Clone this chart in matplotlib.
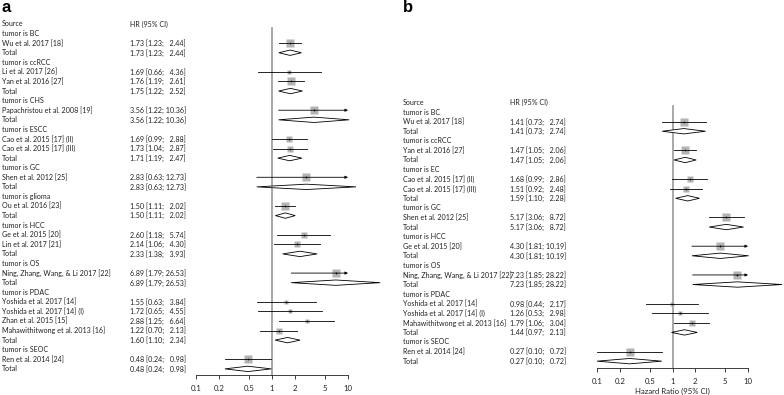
import numpy as np
import matplotlib
matplotlib.use("Agg")
import matplotlib.pyplot as plt
from matplotlib import transforms
from matplotlib.patches import Polygon

plt.rcParams["font.family"] = ["Lato", "DejaVu Sans"]

TXT = "#231f20"
BOX = "#b3b3b3"
VLINE = "#9a9a9a"

# ---- panel a data ----
a_groups = ["BC", "ccRCC", "CHS", "ESCC", "GC", "glioma", "HCC", "OS", "PDAC", "SEOC"]
a_studies = ["Wu et al. 2017 [18]",
             "Li et al. 2017 [26]", "Yan et al. 2016 [27]",
             "Papachristou et al. 2008 [19]",
             "Cao et al. 2015 [17] (II)", "Cao et al. 2015 [17] (III)",
             "Shen et al. 2012 [25]",
             "Ou et al. 2016 [23]",
             "Ge et al. 2015 [20]", "Lin et al. 2017 [21]",
             "Ning, Zhang, Wang, & Li 2017 [22]",
             "Yoshida et al. 2017 [14]", "Yoshida et al. 2017 [14] (I)",
             "Zhan et al. 2015 [15]", "Mahawithitwong et al. 2013 [16]",
             "Ren et al. 2014 [24]"]
a_study_group = [0, 1, 1, 2, 3, 3, 4, 5, 6, 6, 7, 8, 8, 8, 8, 9]
a_hr = [1.73, 1.69, 1.76, 3.56, 1.69, 1.73, 2.83, 1.50, 2.60, 2.14, 6.89, 1.55, 1.72, 2.88, 1.22, 0.48]
a_lo = [1.23, 0.66, 1.19, 1.22, 0.99, 1.04, 0.63, 1.11, 1.18, 1.06, 1.79, 0.63, 0.65, 1.25, 0.70, 0.24]
a_hi = [2.44, 4.36, 2.61, 10.36, 2.88, 2.87, 12.73, 2.02, 5.74, 4.30, 26.53, 3.84, 4.55, 6.64, 2.13, 0.98]
a_weight = [100, 15, 85, 100, 48, 52, 100, 100, 44, 56, 100, 18, 15, 21, 46, 100]
a_tot_hr = [1.73, 1.75, 3.56, 1.71, 2.83, 1.50, 2.33, 6.89, 1.60, 0.48]
a_tot_lo = [1.23, 1.22, 1.22, 1.19, 0.63, 1.11, 1.38, 1.79, 1.10, 0.24]
a_tot_hi = [2.44, 2.52, 10.36, 2.47, 12.73, 2.02, 3.93, 26.53, 2.34, 0.98]

# ---- panel b data ----
b_groups = ["BC", "ccRCC", "EC", "GC", "HCC", "OS", "PDAC", "SEOC"]
b_studies = ["Wu et al. 2017 [18]",
             "Yan et al. 2016 [27]",
             "Cao et al. 2015 [17] (II)", "Cao et al. 2015 [17] (III)",
             "Shen et al. 2012 [25]",
             "Ge et al. 2015 [20]",
             "Ning, Zhang, Wang, & Li 2017 [22]",
             "Yoshida et al. 2017 [14]", "Yoshida et al. 2017 [14] (I)",
             "Mahawithitwong et al. 2013 [16]",
             "Ren et al. 2014 [24]"]
b_study_group = [0, 1, 2, 2, 3, 4, 5, 6, 6, 6, 7]
b_hr = [1.41, 1.47, 1.68, 1.51, 5.17, 4.30, 7.23, 0.98, 1.26, 1.79, 0.27]
b_lo = [0.73, 1.05, 0.99, 0.92, 3.06, 1.81, 1.85, 0.44, 0.53, 1.06, 0.10]
b_hi = [2.74, 2.06, 2.86, 2.48, 8.72, 10.19, 28.22, 2.17, 2.98, 3.04, 0.72]
b_weight = [100, 100, 47, 53, 100, 100, 100, 24, 21, 55, 100]
b_tot_hr = [1.41, 1.47, 1.59, 5.17, 4.30, 7.23, 1.44, 0.27]
b_tot_lo = [0.73, 1.05, 1.10, 3.06, 1.81, 1.85, 0.97, 0.10]
b_tot_hi = [2.74, 2.06, 2.28, 8.72, 10.19, 28.22, 2.13, 0.72]

ticks = [0.1, 0.2, 0.5, 1, 2, 5, 10]
tick_labels = ["0.1", "0.2", "0.5", "1", "2", "5", "10"]

W, H = 784, 395
FS = 5.1
ROW = 9.58


def ci_text(hr, lo, hi):
    up = f"{hi:.2f}"
    if len(up) < 5:
        up = "  " + up
    return f"{hr:.2f} [{lo:.2f}; {up}]"


def forest(fig, left, right, axis_y, first_y, src_x, hr_x,
           groups, studies, sgroup, hr, lo, hi, weight, thr, tlo, thi):
    # rows: Source, then per group header, studies, Total
    rows = [("head", "Source", None)]
    for g, name in enumerate(groups):
        rows.append(("head", f"tumor is {name}", None))
        for i, sg in enumerate(sgroup):
            if sg == g:
                rows.append(("study", studies[i], i))
        rows.append(("total", "Total", g))

    ybot = (axis_y - first_y) / ROW
    top_px = first_y - 0.5 * ROW
    ax = fig.add_axes([left / W, 1 - axis_y / H, (right - left) / W, (axis_y - top_px) / H])
    ax.set_xscale("log")
    ax.set_xlim(0.1, 10)
    ax.set_ylim(ybot, -0.5)
    for s in ["top", "left", "right"]:
        ax.spines[s].set_visible(False)
    ax.spines["bottom"].set_linewidth(0.6)
    ax.spines["bottom"].set_color(TXT)
    ax.set_yticks([])
    ax.set_xticks(ticks)
    ax.set_xticklabels(tick_labels)
    ax.minorticks_off()
    ax.tick_params(axis="x", length=3, width=0.6, labelsize=5.6, colors=TXT, pad=4)
    ax.patch.set_alpha(0)

    tr = transforms.blended_transform_factory(fig.transFigure, ax.transData)
    ax.text(src_x / W, 0, "Source", transform=tr, fontsize=FS, color=TXT, va="center")
    ax.text(hr_x / W, 0, "HR (95% CI)", transform=tr, fontsize=FS, color=TXT, va="center")

    ax.plot([1, 1], [0.4, ybot], color=VLINE, lw=1.2, clip_on=False, zorder=1)

    for r, (kind, label, idx) in enumerate(rows):
        if r == 0:
            continue
        ax.text(src_x / W, r, label, transform=tr, fontsize=FS, color=TXT, va="center")
        if kind == "study":
            h, l, u = hr[idx], lo[idx], hi[idx]
            ax.text(hr_x / W, r, ci_text(h, l, u), transform=tr, fontsize=FS, color=TXT, va="center")
            if u > 10:
                ax.annotate("", xy=(10, r), xytext=(l, r),
                            arrowprops=dict(arrowstyle="-|>", lw=0.6, color="black",
                                            mutation_scale=4, shrinkA=0, shrinkB=0),
                            zorder=3)
            else:
                ax.plot([l, u], [r, r], color="black", lw=0.6, zorder=3)
            side = 5.6 * np.sqrt(weight[idx] / 100)
            ax.plot([h], [r], marker="s", ms=side, color=BOX, mec="none", zorder=2)
            ax.plot([h], [r], marker="+", ms=2, mew=0.5, color="black", zorder=4)
        elif kind == "total":
            h, l, u = thr[idx], tlo[idx], thi[idx]
            ax.text(hr_x / W, r, ci_text(h, l, u), transform=tr, fontsize=FS, color=TXT, va="center")
            dh = 0.28
            poly = Polygon([(l, r), (h, r - dh), (u, r), (h, r + dh)], closed=True,
                           facecolor="white", edgecolor="black", lw=0.6, clip_on=False, zorder=3)
            ax.add_patch(poly)
    return ax


fig = plt.figure(figsize=(W / 100, H / 100), dpi=100)

forest(fig, 196, 348, 375, 24, 2, 130,
       a_groups, a_studies, a_study_group, a_hr, a_lo, a_hi, a_weight,
       a_tot_hr, a_tot_lo, a_tot_hi)
axb = forest(fig, 597, 748, 368, 102.5, 403, 510,
             b_groups, b_studies, b_study_group, b_hr, b_lo, b_hi, b_weight,
             b_tot_hr, b_tot_lo, b_tot_hi)
axb.set_xlabel("Hazard Ratio (95% CI)", fontsize=5.6, color=TXT, labelpad=2)

fig.text(2 / W, 1 - 0.5 / H, "a", fontsize=12, fontweight="bold", va="top",
         color="black", family=["Liberation Sans", "DejaVu Sans"])
fig.text(403 / W, 1 - 0.5 / H, "b", fontsize=12, fontweight="bold", va="top",
         color="black", family=["Liberation Sans", "DejaVu Sans"])

fig.savefig("out.png", dpi=100)
